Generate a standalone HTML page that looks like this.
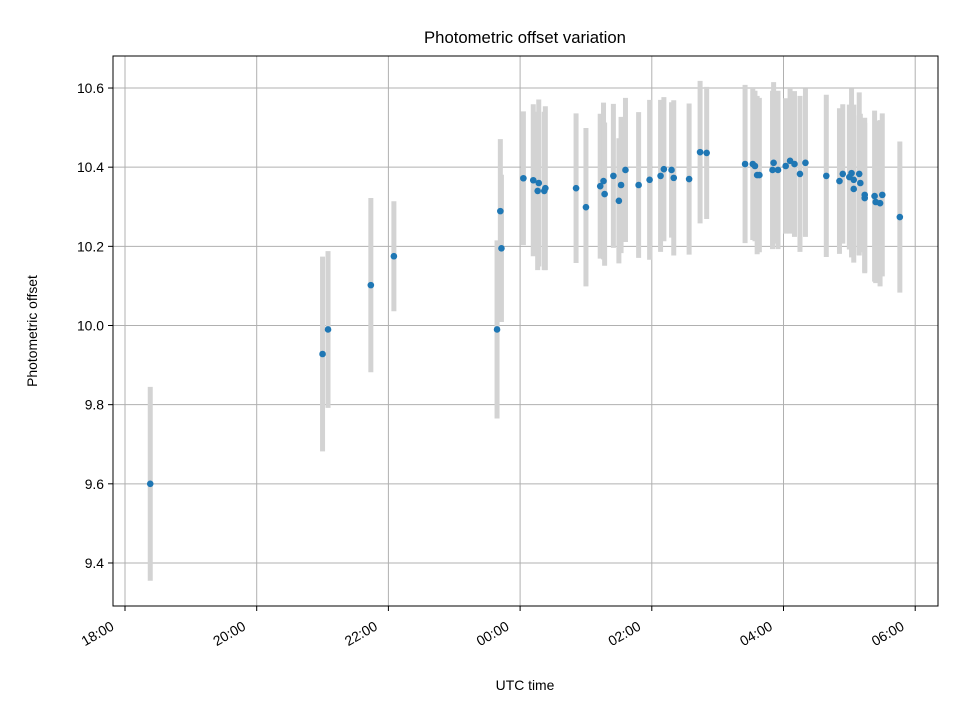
<!DOCTYPE html>
<html><head><meta charset="utf-8"><style>
body{margin:0;background:#fff}
svg text{font-family:"Liberation Sans","DejaVu Sans",sans-serif;fill:#000}
</style></head><body>
<svg id="chart" width="960" height="720" xmlns="http://www.w3.org/2000/svg">
<rect width="960" height="720" fill="#fff"/>
<g id="grid"></g>
<g id="bars"></g>
<g id="pts"></g>
<rect x="113" y="56" width="825" height="550" fill="none" stroke="#000" stroke-width="1"/>
<g id="ticks"></g>
<text x="525" y="43" font-size="16.7" text-anchor="middle">Photometric offset variation</text>
<text x="525" y="690" font-size="13.9" text-anchor="middle">UTC time</text>
<text x="37" y="331" font-size="13.9" text-anchor="middle" transform="rotate(-90 37 331)">Photometric offset</text>
</svg>
<script>
// minutes after 18:00
const times=[23,180,185,224,245,339,342,343,363,372,377,376,383,382,411,420,433,436,437,445,450,452,456,468,478,488,491,498,500,514,524,530,565,572,574,576,578,591,590,595,602,606,610,615,620,639,651,654,660,662,664,664,669,670,674,674,683,684,688,690,706];
const values=[9.600,9.928,9.990,10.102,10.175,9.990,10.289,10.195,10.372,10.367,10.360,10.340,10.347,10.340,10.347,10.299,10.352,10.365,10.332,10.378,10.315,10.355,10.393,10.355,10.368,10.378,10.395,10.393,10.373,10.370,10.438,10.436,10.408,10.408,10.403,10.380,10.380,10.411,10.393,10.393,10.403,10.416,10.408,10.383,10.411,10.378,10.365,10.383,10.375,10.385,10.368,10.345,10.383,10.360,10.330,10.322,10.327,10.312,10.309,10.330,10.274];
const errors=[0.245,0.246,0.198,0.220,0.139,0.225,0.182,0.186,0.169,0.192,0.211,0.200,0.207,0.200,0.189,0.200,0.183,0.198,0.181,0.182,0.158,0.172,0.182,0.184,0.202,0.192,0.182,0.171,0.196,0.191,0.180,0.167,0.200,0.192,0.190,0.200,0.195,0.204,0.200,0.200,0.171,0.184,0.184,0.197,0.187,0.205,0.184,0.176,0.183,0.213,0.190,0.186,0.206,0.175,0.195,0.190,0.216,0.205,0.210,0.206,0.191];
const xTickMinutes=[0,120,240,360,480,600,720];
const xTickLabels=["18:00","20:00","22:00","00:00","02:00","04:00","06:00"];
const yTickValues=[9.4,9.6,9.8,10.0,10.2,10.4,10.6];
const yTickLabels=["9.4","9.6","9.8","10.0","10.2","10.4","10.6"];
const NS="http://www.w3.org/2000/svg";
const xS=m=>125+m*1.0975;
const yS=v=>325.5-(v-10)*395.8;
function mk(tag,attrs,parent){const e=document.createElementNS(NS,tag);for(const k in attrs)e.setAttribute(k,attrs[k]);document.getElementById(parent).appendChild(e);return e;}
xTickMinutes.forEach((m,i)=>{
  const x=xS(m);
  const g=mk('line',{x1:x,x2:x,y1:56,y2:606,stroke:'#b0b0b0','stroke-width':1},'grid');
  
  
  const t=mk('line',{x1:x,x2:x,y1:606,y2:611,stroke:'#000'},'ticks');
  
  
  const lx=x-10, ly=629;
  const l=mk('text',{x:lx,y:ly,'font-size':13.9,'text-anchor':'end',transform:`rotate(-30 ${lx} ${ly})`},'ticks');
  l.textContent=xTickLabels[i];
  
  
});
yTickValues.forEach((v,i)=>{
  const y=yS(v);
  const g=mk('line',{x1:113,x2:938,y1:y,y2:y,stroke:'#b0b0b0','stroke-width':1},'grid');
  
  
  const t=mk('line',{x1:108,x2:113,y1:y,y2:y,stroke:'#000'},'ticks');
  
  
  const l=mk('text',{x:104,y:y+5,'font-size':13.9,'text-anchor':'end'},'ticks');
  l.textContent=yTickLabels[i];
  
  
});
times.forEach((m,i)=>{
  const x=xS(m);
  const b=mk('line',{x1:x,x2:x,y1:yS(values[i]+errors[i]),y2:yS(values[i]-errors[i]),stroke:'#d3d3d3','stroke-width':5},'bars');
  
  
  const c=mk('circle',{cx:x,cy:yS(values[i]),r:3.3,fill:'#1f77b4'},'pts');
  
  
});
</script>
</body></html>
